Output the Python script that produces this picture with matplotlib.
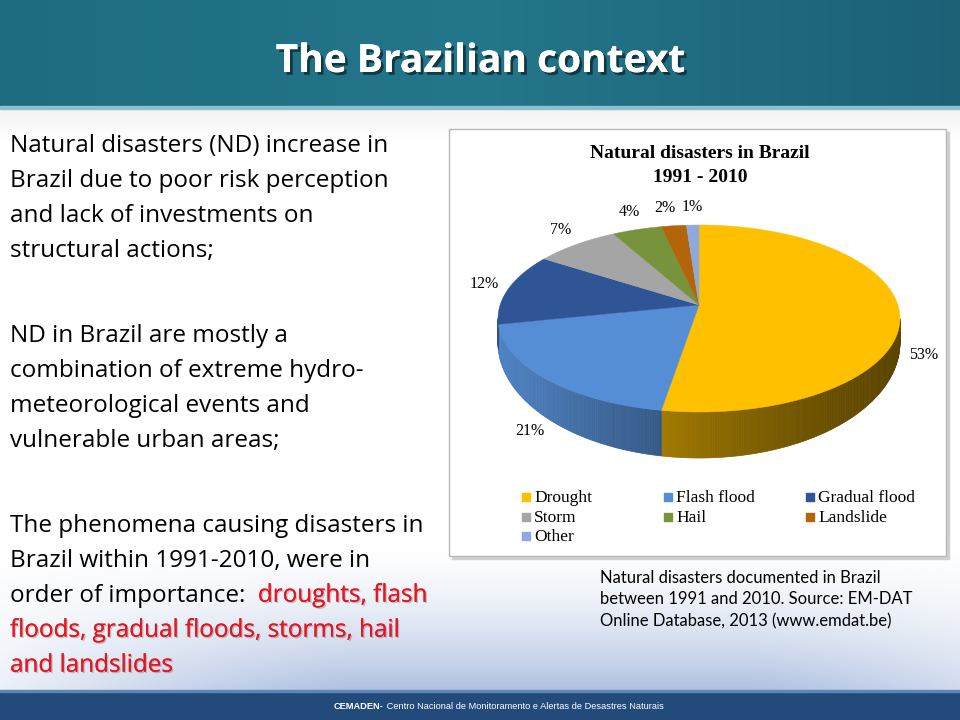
import numpy as np
import matplotlib.pyplot as plt
import matplotlib.patheffects as pe
from matplotlib.patches import Polygon, Rectangle

# Dados do gráfico
categories = ['Drought', 'Flash flood', 'Gradual flood', 'Storm', 'Hail', 'Landslide', 'Other']
shares = [53, 21, 12, 7, 4, 2, 1]
colors = ['#FFC000', '#558ED5', '#2F5597', '#A5A5A5', '#77933C', '#B3650A', '#8EA9DB']

title = 'The Brazilian context'
chart_title = ['Natural disasters in Brazil', '1991 - 2010']
para1 = ['Natural disasters (ND) increase in', 'Brazil due to poor risk perception',
         'and lack of investments on', 'structural actions;']
para2 = ['ND in Brazil are mostly a', 'combination of extreme hydro-',
         'meteorological events and', 'vulnerable urban areas;']
para3 = ['The phenomena causing disasters in', 'Brazil within 1991-2010, were in',
         'order of importance:  ']
para3_red = ['droughts, flash', 'floods, gradual floods, storms, hail', 'and landslides']
caption = ['Natural disasters documented in Brazil', 'between 1991 and 2010. Source: EM-DAT',
           'Online Database, 2013 (www.emdat.be)']
footer_bold = 'CEMADEN-'
footer_text = ' Centro Nacional de Monitoramento e Alertas de Desastres Naturais'

fig = plt.figure(figsize=(9.6, 7.2), dpi=100)
ax = fig.add_axes([0, 0, 1, 1])
ax.set_xlim(0, 960)
ax.set_ylim(720, 0)
ax.axis('off')

# Fundo do slide
yy, xx = np.mgrid[0:720, 0:960]
w = np.clip((yy - 540) / 150, 0, 1) ** 1.6 * np.clip(0.25 + 0.9 * np.sin(np.pi * xx / 1100), 0, 1)
g = np.clip((140 - yy) / 40, 0, 1) * 0.06
bg = np.ones((720, 960, 3))
tint = np.array([175, 193, 225]) / 255
bg = bg * (1 - w[..., None]) + tint * w[..., None]
bg = bg - g[..., None]
ax.imshow(np.clip(bg, 0, 1), extent=(0, 960, 720, 0), aspect='auto', zorder=0)

# Barra do título
bar = np.linspace(0, 1, 960)
bar_img = np.zeros((1, 960, 3))
left_c = np.array([30, 108, 128]) / 255
right_c = np.array([28, 96, 118]) / 255
mid_c = np.array([36, 118, 138]) / 255
bar_img[0] = np.where(bar[:, None] < 0.5,
                      left_c + (mid_c - left_c) * (bar[:, None] / 0.5),
                      mid_c + (right_c - mid_c) * ((bar[:, None] - 0.5) / 0.5))
ax.imshow(bar_img, extent=(0, 960, 107, 0), aspect='auto', zorder=1)
ax.add_patch(Rectangle((0, 106), 960, 2.5, color='#8fbfcc', zorder=2))
ax.text(480, 72, title, ha='center', va='baseline', color='white', fontsize=28,
        fontweight='bold', family='Open Sans', zorder=3,
        path_effects=[pe.withSimplePatchShadow(offset=(2, -2), shadow_rgbFace='black', alpha=0.5),
                      pe.Normal()])

# Rodapé
ax.add_patch(Rectangle((0, 691), 960, 29, color='#224a7b', zorder=2))
ax.add_patch(Rectangle((0, 690), 960, 1.5, color='#5d86b5', zorder=2))
ft = ax.text(334, 709, footer_bold, ha='left', va='baseline', color='white', fontsize=6.7,
             fontweight='bold', family='Liberation Sans', zorder=3)
ax.annotate(footer_text, xy=(1, 0), xycoords=ft, ha='left', va='bottom', color='white',
            fontsize=6.7, family='Liberation Sans', zorder=3)

# Texto à esquerda
fs = 17.5
font = 'Open Sans'
for k, line in enumerate(para1):
    ax.text(10, 151.7 + 35 * k, line, fontsize=fs, family=font, va='baseline', zorder=3)
for k, line in enumerate(para2):
    ax.text(10, 341.7 + 35 * k, line, fontsize=fs, family=font, va='baseline', zorder=3)
red_fx = [pe.withSimplePatchShadow(offset=(1, -1), shadow_rgbFace='black', alpha=0.2), pe.Normal()]
for k, line in enumerate(para3):
    t = ax.text(10, 531.7 + 35 * k, line, fontsize=fs, family=font, va='baseline', zorder=3)
ax.annotate(para3_red[0], xy=(1, 0), xycoords=t, ha='left', va='bottom', fontsize=fs,
            family=font, color='#e8141e', zorder=3, path_effects=red_fx)
for k, line in enumerate(para3_red[1:]):
    ax.text(10, 531.7 + 35 * (k + 3), line, fontsize=fs, family=font, va='baseline',
            color='#e8141e', zorder=3, path_effects=red_fx)

# Legenda da figura
for k, line in enumerate(caption):
    ax.text(600, 583 + 21.5 * k, line, fontsize=12, family='Lato', va='baseline', zorder=3)

# Caixa do gráfico
ax.add_patch(Rectangle((452, 132), 497, 427, color='#d0d0d0', zorder=2))
ax.add_patch(Rectangle((449, 129), 497, 427, facecolor='white', edgecolor='#b8b8b8', lw=1, zorder=3))
for k, line in enumerate(chart_title):
    ax.text(700, 158.5 + 23 * k, line, ha='center', va='baseline', fontsize=14,
            fontweight='bold', family='Liberation Serif', zorder=4)

# Pizza 3D
cx, cy, rx, ry = 699, 318.5, 201, 93.5
vx, vy = 699, 305
d0, d1 = 24, 22


def rim(th):
    t = np.radians(th)
    return cx + rx * np.sin(t), cy - ry * np.cos(t)


def depth(th):
    return d0 - d1 * np.cos(np.radians(th))


def shade(x):
    return 0.36 + 0.56 * np.clip((900 - x) / 400, 0, 1) ** 1.4


fracs = np.array(shares) / sum(shares)
ends = 360 * np.cumsum(fracs)
starts = ends - 360 * fracs

for s, e, c in zip(starts, ends, colors):
    a, b = max(s, 90), min(e, 270)
    if b <= a:
        continue
    base = np.array(plt.matplotlib.colors.to_rgb(c))
    th = np.linspace(a, b, int((b - a) / 0.7) + 2)
    for t0, t1 in zip(th[:-1], th[1:]):
        x0, y0 = rim(t0)
        x1, y1 = rim(t1)
        col = base * shade((x0 + x1) / 2)
        ax.add_patch(Polygon([(x0, y0), (x1, y1), (x1, y1 + depth(t1)), (x0, y0 + depth(t0))],
                             closed=True, facecolor=col, edgecolor=col, lw=0.5, zorder=5))

for s, e, c in zip(starts, ends, colors):
    th = np.linspace(s, e, int((e - s) / 0.5) + 2)
    xs, ys = rim(th)
    pts = [(vx, vy)] + list(zip(xs, ys))
    ax.add_patch(Polygon(pts, closed=True, facecolor=c, edgecolor=c, lw=0.3, zorder=6))

# Rótulos de porcentagem
lab_x, lab_y = [], []
for s, e in zip(starts, ends):
    m = np.radians((s + e) / 2)
    lx = cx + (rx + 25) * np.sin(m)
    ly = cy - (ry + 18) * np.cos(m)
    if np.cos(m) < 0:
        ly += depth(np.degrees(m))
    lab_x.append(lx)
    lab_y.append(ly)
# evita sobreposição dos rótulos pequenos no topo
for i in range(len(lab_x) - 2, 2, -1):
    if lab_x[i] > lab_x[i + 1] - 27:
        lab_x[i] = lab_x[i + 1] - 27
for lx, ly, v in zip(lab_x, lab_y, shares):
    ax.text(lx, ly, f'{v}%', ha='center', va='center', fontsize=11.5,
            family='Liberation Serif', zorder=7)

# Legenda
for i, (name, c) in enumerate(zip(categories, colors)):
    col, row = i % 3, i // 3
    x = 526 + 142 * col
    y = 497 + 19.5 * row
    ax.scatter([x], [y], marker='s', s=40, color=c, zorder=7)
    ax.text(x + 8, y + 1, name, ha='left', va='center', fontsize=12.5,
            family='Liberation Serif', zorder=7)

fig.savefig('out.png', dpi=100)
